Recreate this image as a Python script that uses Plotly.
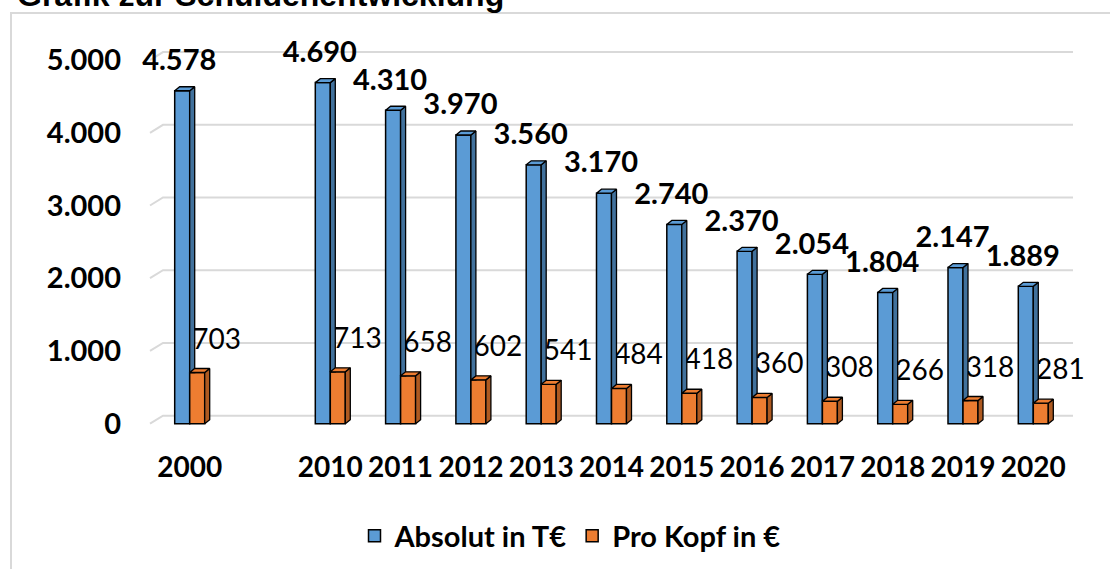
import plotly.graph_objects as go

# ---- data ----
categories = ["2000", "", "2010", "2011", "2012", "2013", "2014", "2015",
              "2016", "2017", "2018", "2019", "2020"]
absolut = [4578, None, 4690, 4310, 3970, 3560, 3170, 2740, 2370, 2054, 1804, 2147, 1889]
pro_kopf = [703, None, 713, 658, 602, 541, 484, 418, 360, 308, 266, 318, 281]
y_tickvals = [0, 1000, 2000, 3000, 4000, 5000]
y_ticktext = ["0", "1.000", "2.000", "3.000", "4.000", "5.000"]
series_names = ["Absolut in T€", "Pro Kopf in €"]
title_text = "Grafik zur Schuldenentwicklung"

# ---- layout geometry ----
W, H = 1110, 569
ML, MR, MT, MB = 144, 31, 31, 141
XR = [-0.65, 12.65]
YR = [-60, 5400]
ux = (W - ML - MR) / (XR[1] - XR[0])   # px per category unit
uy = (H - MT - MB) / (YR[1] - YR[0])   # px per value unit

BLUE, BLUE_SIDE = "#5B9BD5", "#41719C"
ORANGE, ORANGE_SIDE = "#ED7D31", "#AE5A21"
bw = 15 / ux          # bar width
ddx = 5 / ux          # 3D depth x
ddy = 4 / uy          # 3D depth y
gdx = 13 / ux         # wall depth x
gdy = 8 / uy          # wall depth y
x_wall = (150 - ML) / ux + XR[0]
x_end = (1073 - ML) / ux + XR[0]

FONT = "Lato"

def fmt(v):
    return f"{v:,}".replace(",", ".")

idx = list(range(len(categories)))
fig = go.Figure()

# front faces (bars)
fig.add_trace(go.Bar(x=idx, y=absolut, width=bw, offset=-bw, name=series_names[0],
                     marker=dict(color=BLUE, line=dict(color="black", width=1.5))))
fig.add_trace(go.Bar(x=idx, y=pro_kopf, width=bw, offset=0, name=series_names[1],
                     marker=dict(color=ORANGE, line=dict(color="black", width=1.5))))

# orange labels (drawn below side faces)
ox, oy, ot = [], [], []
for i, o in zip(idx, pro_kopf):
    if o is None:
        continue
    ox.append(i + 27 / ux)
    oy.append(o + 31 / uy)
    ot.append(fmt(o))
fig.add_trace(go.Scatter(x=ox, y=oy, text=ot, mode="text", showlegend=False,
                         cliponaxis=False, hoverinfo="skip",
                         textfont=dict(family=FONT, size=28, color="black")))

def poly_trace(polys, color):
    xs, ys = [], []
    for p in polys:
        for (a, b) in p + [p[0]]:
            xs.append(a)
            ys.append(b)
        xs.append(None)
        ys.append(None)
    return go.Scatter(x=xs, y=ys, mode="lines", fill="toself", fillcolor=color,
                      line=dict(color="black", width=1.3), showlegend=False,
                      hoverinfo="skip")

blue_side, blue_top, or_side, or_top = [], [], [], []
for i, v, o in zip(idx, absolut, pro_kopf):
    if v is None:
        continue
    blue_side.append([(i, o), (i, v), (i + ddx, v + ddy), (i + ddx, o)])
    blue_top.append([(i - bw, v), (i, v), (i + ddx, v + ddy), (i - bw + ddx, v + ddy)])
    or_side.append([(i + bw, 0), (i + bw, o), (i + bw + ddx, o + ddy), (i + bw + ddx, ddy)])
    or_top.append([(i, o), (i + bw, o), (i + bw + ddx, o + ddy), (i + ddx, o + ddy)])

fig.add_trace(poly_trace(blue_side, BLUE_SIDE))
fig.add_trace(poly_trace(blue_top, BLUE))
fig.add_trace(poly_trace(or_side, ORANGE_SIDE))
fig.add_trace(poly_trace(or_top, ORANGE))

# blue labels
bx, by, bt = [], [], []
for i, v in zip(idx, absolut):
    if v is None:
        continue
    bx.append(i - bw / 2 - 3 / ux)
    by.append(v + 28 / uy)
    bt.append(fmt(v))
fig.add_trace(go.Scatter(x=bx, y=by, text=bt, mode="text", showlegend=False,
                         cliponaxis=False, hoverinfo="skip",
                         textfont=dict(family=FONT, size=29, color="black", weight="bold")))

# back wall gridlines
shapes = []
for t in y_tickvals:
    path = (f"M {x_wall},{t} L {x_wall + gdx},{t + gdy} L {x_end},{t + gdy}")
    shapes.append(dict(type="path", xref="x", yref="y", path=path, layer="below",
                       line=dict(color="#D9D9D9", width=2)))

# outer border
plot_h = H - MT - MB
plot_w = W - ML - MR
shapes.append(dict(type="rect", xref="paper", yref="paper",
                   x0=(11 - ML) / plot_w, x1=1.2,
                   y0=-0.6, y1=1 + (MT - 13) / plot_h,
                   line=dict(color="#D9D9D9", width=2), layer="below"))

fig.update_layout(
    width=W, height=H,
    margin=dict(l=ML, r=MR, t=MT, b=MB, autoexpand=False),
    paper_bgcolor="white", plot_bgcolor="white",
    barmode="overlay",
    shapes=shapes,
    showlegend=True,
    legend=dict(orientation="h", xanchor="center", yanchor="middle",
                x=(570 - ML) / plot_w, y=-(536 - (MT + plot_h)) / plot_h,
                font=dict(family=FONT, size=29, color="black", weight="bold"),
                bgcolor="rgba(0,0,0,0)"),
    xaxis=dict(range=XR, tickmode="array", tickvals=idx, ticktext=categories,
               showgrid=False, zeroline=False, showline=False, ticks="",
               ticklabelstandoff=20,
               tickfont=dict(family=FONT, size=28, color="black", weight="bold")),
    yaxis=dict(range=YR, tickmode="array", tickvals=y_tickvals, ticktext=y_ticktext,
               showgrid=False, zeroline=False, showline=False, ticks="",
               ticklabelstandoff=22,
               tickfont=dict(family=FONT, size=29, color="black", weight="bold")),
    annotations=[dict(text=title_text, xref="paper", yref="paper",
                      x=(15 - ML) / plot_w, y=1 + (MT + 5) / plot_h,
                      xanchor="left", yanchor="middle", showarrow=False,
                      font=dict(family="Liberation Sans", size=32, color="black",
                                weight="bold"))],
)

fig.write_html("out.html", config={"displayModeBar": False},
               post_script="document.body.style.margin='0';document.body.style.padding='0';")
